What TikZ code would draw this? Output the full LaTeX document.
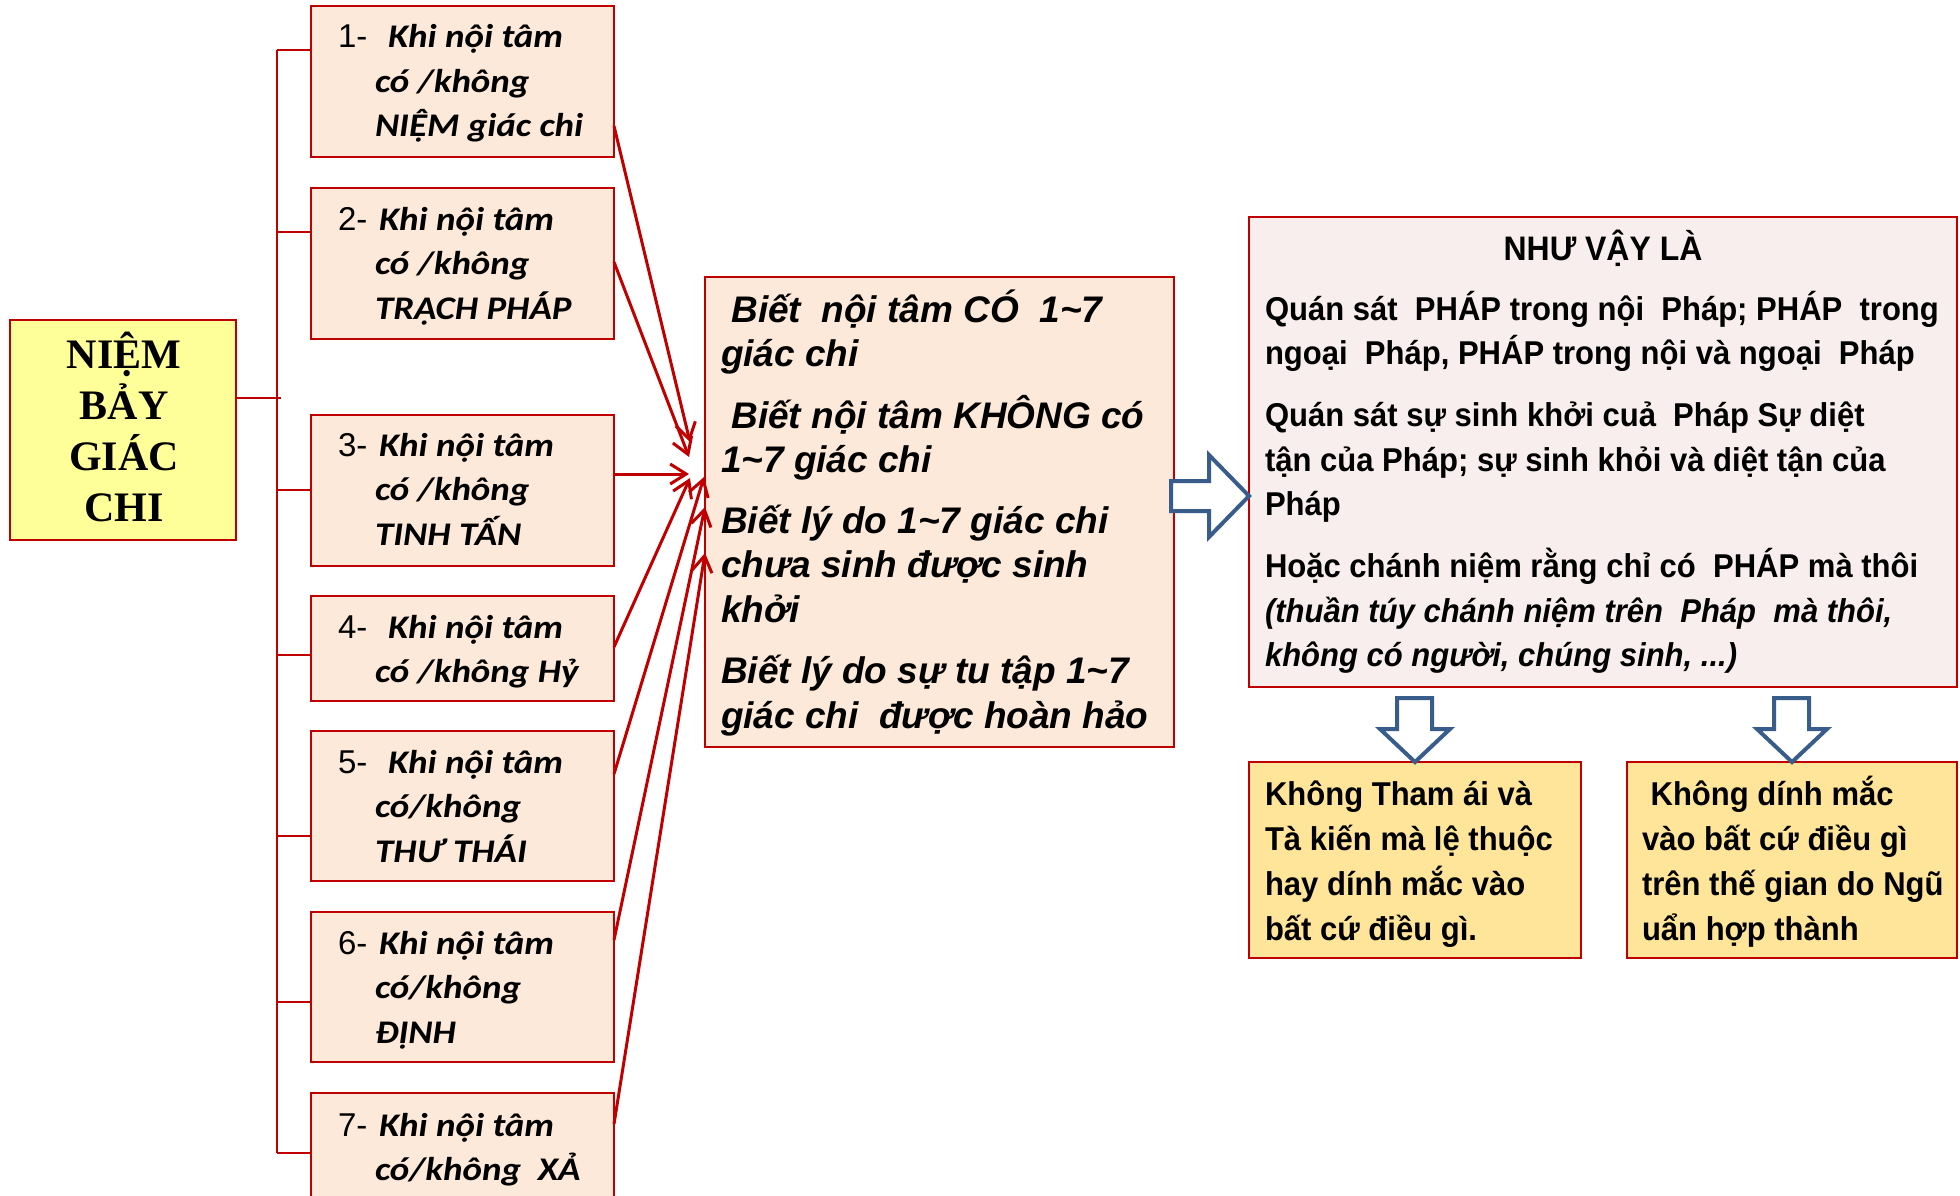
\documentclass[tikz,border=0pt]{standalone}
\usepackage{fontspec}
\setmainfont{Liberation Sans}
\newfontfamily\calibfont[FakeStretch=1.12]{Carlito}
\newfontfamily\arialfont{Liberation Sans}
\newfontfamily\narrowfont[FakeStretch=0.94]{Liberation Sans}
\newfontfamily\timesfont{Liberation Serif}
\usetikzlibrary{arrows.meta,calc}

\definecolor{boxred}{RGB}{192,0,0}
\definecolor{peach}{RGB}{253,233,217}
\definecolor{paleyellow}{RGB}{255,255,153}
\definecolor{blush}{RGB}{248,238,237}
\definecolor{honey}{RGB}{255,229,153}
\definecolor{steel}{RGB}{56,93,138}

% stack of lines whose reference point is the first baseline
\newcommand\vstack[2]{\vtop{\baselineskip=#1\lineskiplimit=-\maxdimen\lineskip=0pt #2}}
\newcommand\numline[2]{\hbox{\hbox to #1{{\arialfont\mdseries\upshape #2}\hss}}}

\tikzset{
  peachbox/.style={draw=boxred, line width=2.5pt, fill=peach, minimum width=303pt,
    anchor=north west, inner sep=0pt, outer sep=0pt},
  bigbox/.style={draw=boxred, line width=2.5pt, anchor=north west, inner sep=0pt, outer sep=0pt},
  txt/.style={anchor=base west, inner sep=0pt, outer sep=0pt},
  calibtxt/.style={txt, font=\calibfont\bfseries\itshape\fontsize{33pt}{44.5pt}\selectfont},
  narrowtxt/.style={txt, font=\narrowfont\bfseries\fontsize{33pt}{44.5pt}\selectfont},
  link/.style={draw=boxred, line width=3pt, -{Straight Barb[length=16pt,width=20pt]}},
  trunk/.style={draw=boxred, line width=2.5pt},
  hollow/.style={draw=steel, line width=4pt, fill=white, line join=miter},
}

\begin{document}
\begin{tikzpicture}[x=1pt, y=-1pt]
\useasboundingbox (0,0) rectangle (1960,1196);
\clip (0,0) rectangle (1960,1196);
\fill[white] (0,0) rectangle (1960,1196);

% title box on the left
\node[bigbox, fill=paleyellow, minimum width=226pt, minimum height=220pt] (nb) at (10,320) {};
\node[anchor=base, inner sep=0pt, font=\timesfont\bfseries\fontsize{42pt}{51pt}\selectfont] (nbt) at (124,368)
  {\vtop{\baselineskip=51.3pt\lineskiplimit=-\maxdimen\lineskip=0pt
   \halign{\hfil#\hfil\cr NIỆM\cr BẢY\cr GIÁC\cr CHI\cr}}};

% the seven factors
\node[peachbox, minimum height=151pt] (b1) at (311,6) {};
\node[peachbox, minimum height=151pt] (b2) at (311,188) {};
\node[peachbox, minimum height=151pt] (b3) at (311,415) {};
\node[peachbox, minimum height=105pt] (b4) at (311,596) {};
\node[peachbox, minimum height=150pt] (b5) at (311,731) {};
\node[peachbox, minimum height=150pt] (b6) at (311,912) {};
\node[peachbox, minimum height=150pt] (b7) at (311,1093) {};

\node[calibtxt] (b1t) at (338,48) {\vstack{44.5pt}{%
  \hbox{\numline{50pt}{1-}Khi nội tâm}\hbox{\hspace*{37pt}có /không}\hbox{\hspace*{37pt}NIỆM giác chi}}};
\node[calibtxt] (b2t) at (338,230) {\vstack{44.5pt}{%
  \hbox{\numline{41pt}{2-}Khi nội tâm}\hbox{\hspace*{37pt}có /không}\hbox{\hspace*{37pt}TRẠCH PHÁP}}};
\node[calibtxt] (b3t) at (338,456) {\vstack{44.5pt}{%
  \hbox{\numline{41pt}{3-}Khi nội tâm}\hbox{\hspace*{37pt}có /không}\hbox{\hspace*{37pt}TINH TẤN}}};
\node[calibtxt] (b4t) at (338,638) {\vstack{44.5pt}{%
  \hbox{\numline{50pt}{4-}Khi nội tâm}\hbox{\hspace*{37pt}có /không Hỷ}}};
\node[calibtxt] (b5t) at (338,773) {\vstack{44.5pt}{%
  \hbox{\numline{50pt}{5-}Khi nội tâm}\hbox{\hspace*{37pt}có/không}\hbox{\hspace*{37pt}THƯ THÁI}}};
\node[calibtxt] (b6t) at (338,954) {\vstack{44.5pt}{%
  \hbox{\numline{41pt}{6-}Khi nội tâm}\hbox{\hspace*{37pt}có/không}\hbox{\hspace*{37pt}ĐỊNH}}};
\node[calibtxt] (b7t) at (338,1136) {\vstack{44.5pt}{%
  \hbox{\numline{41pt}{7-}Khi nội tâm}\hbox{\hspace*{37pt}có/không\ \ XẢ}}};

% tree joining the title to the seven factors
\foreach \b/\dy in {b1/44, b2/44, b3/75, b4/59, b5/105, b6/90, b7/60}
  \draw[trunk] ([yshift=-\dy pt]\b.north west) -- ++(-34,0) coordinate (\b-j);
\draw[trunk] (b1-j) -- (b7-j);
\draw[trunk] ([yshift=32pt]nb.east) -- ++(45,0) coordinate (nb-j);

% middle box
\node[bigbox, fill=peach, minimum width=469pt, minimum height=470pt] (mid) at (705,277) {};
\node[txt, font=\arialfont\bfseries\itshape\fontsize{37pt}{44.5pt}\selectfont] (midt) at (721,322) {\vstack{44.5pt}{%
  \hbox{\ Biết\ \ nội tâm CÓ\ \ 1\textasciitilde7}\hbox{giác chi}\vskip17pt
  \hbox{\ Biết nội tâm KHÔNG có}\hbox{1\textasciitilde7 giác chi}\vskip16pt
  \hbox{Biết lý do 1\textasciitilde7 giác chi}\hbox{chưa sinh được sinh}\hbox{khởi}\vskip17pt
  \hbox{Biết lý do sự tu tập 1\textasciitilde7}\hbox{giác chi\ \ được hoàn hảo}}};

% arrows from each factor into the middle box
\coordinate (t1) at (690,442);
\coordinate (t2) at (689,457);
\coordinate (t3) at (689,474);
\coordinate (t4) at (690,478);
\coordinate (t5) at (704,477);
\coordinate (t6) at (705,507);
\coordinate (t7) at (705,553);
\draw[link] ([yshift=-120pt]b1.north east) -- (t1);
\draw[link] ([yshift=-74pt]b2.north east) -- (t2);
\draw[link] ([yshift=-59pt]b3.north east) -- (t3);
\draw[link] ([yshift=-51pt]b4.north east) -- (t4);
\draw[link] ([yshift=-43pt]b5.north east) -- (t5);
\draw[link] ([yshift=-28pt]b6.north east) -- (t6);
\draw[link] ([yshift=-31pt]b7.north east) -- (t7);

% conclusion box
\node[bigbox, fill=blush, minimum width=708pt, minimum height=470pt] (nv) at (1249,217) {};
\node[anchor=base, inner sep=0pt, font=\narrowfont\bfseries\fontsize{34pt}{44.5pt}\selectfont] (nvh) at (1603,260) {NHƯ VẬY LÀ};
\node[narrowtxt] (nvt) at (1265,320) {\vstack{44.5pt}{%
  \hbox{Quán sát\ \ PHÁP trong nội\ \ Pháp; PHÁP\ \ trong}\hbox{ngoại\ \ Pháp, PHÁP trong nội và ngoại\ \ Pháp}\vskip17.5pt
  \hbox{Quán sát sự sinh khởi cuả\ \ Pháp Sự diệt}\hbox{tận của Pháp; sự sinh khỏi và diệt tận của}\hbox{Pháp}\vskip17.5pt
  \hbox{Hoặc chánh niệm rằng chỉ có\ \ PHÁP mà thôi}\hbox{\itshape (thuần túy chánh niệm trên\ \ Pháp\ \ mà thôi,}\hbox{\itshape không có người, chúng sinh, ...)}}};

% hollow arrow from the middle box to the conclusion
\coordinate (rt) at ([yshift=-44pt]nv.west);
\draw[hollow] (rt) -- ++(-40,41) -- ++(0,-26) -- ++(-38,0) -- ++(0,-30) -- ++(38,0) -- ++(0,-26) -- cycle;

% results
\node[bigbox, fill=honey, minimum width=332pt, minimum height=196pt] (ra) at (1249,762) {};
\node[bigbox, fill=honey, minimum width=330pt, minimum height=196pt] (rb) at (1627,762) {};
\node[narrowtxt] (rat) at (1265,805) {\vstack{45pt}{%
  \hbox{Không Tham ái và}\hbox{Tà kiến mà lệ thuộc}\hbox{hay dính mắc vào}\hbox{bất cứ điều gì.}}};
\node[narrowtxt] (rbt) at (1642,805) {\vstack{45pt}{%
  \hbox{\ Không dính mắc}\hbox{vào bất cứ điều gì}\hbox{trên thế gian do Ngũ}\hbox{uẩn hợp thành}}};

% hollow arrows down to the results
\draw[hollow] (ra.north) -- ++(-35,-33) -- ++(17,0) -- ++(0,-31) -- ++(35,0) -- ++(0,31) -- ++(18,0) -- cycle;
\draw[hollow] (rb.north) -- ++(-35,-33) -- ++(17,0) -- ++(0,-31) -- ++(35,0) -- ++(0,31) -- ++(18,0) -- cycle;
\end{tikzpicture}
\end{document}
